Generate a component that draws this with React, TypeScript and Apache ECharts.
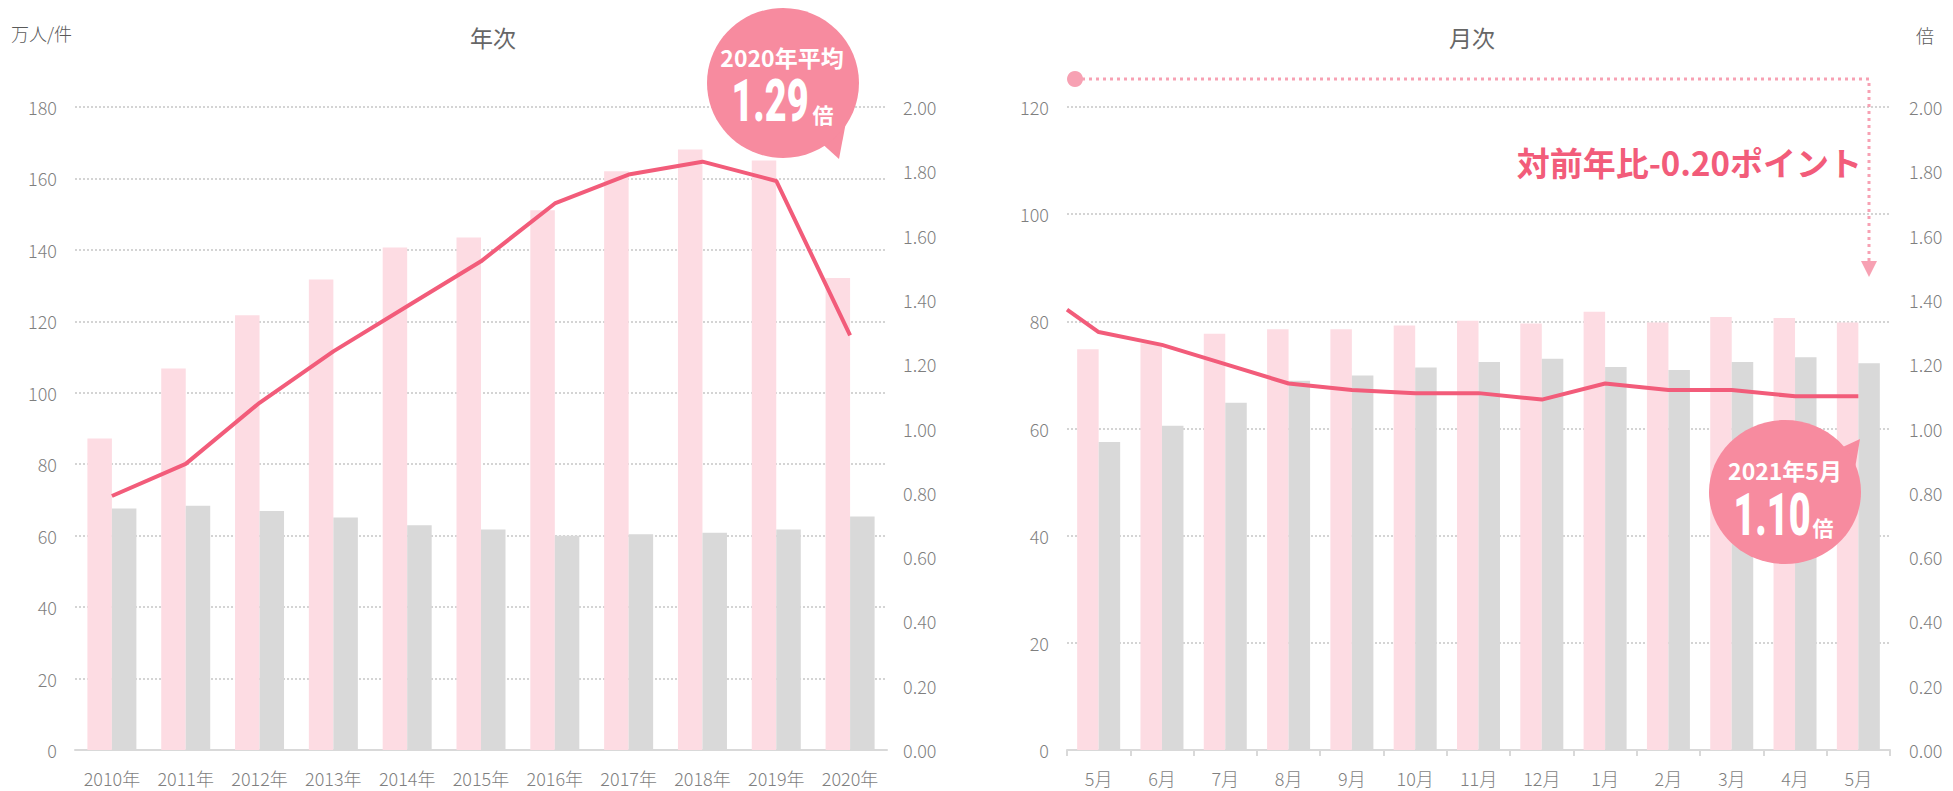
import React, { useEffect, useRef } from "react";
import * as echarts from "echarts";

// ---- data ----
const yearCategories = ["2010年", "2011年", "2012年", "2013年", "2014年", "2015年", "2016年", "2017年", "2018年", "2019年", "2020年"];
const yearOpenings = [87.2, 106.8, 121.7, 131.7, 140.7, 143.5, 151.1, 162.0, 168.1, 165.0, 132.1];
const yearSeekers = [67.6, 68.4, 66.9, 65.1, 62.9, 61.7, 60.0, 60.4, 60.8, 61.7, 65.4];
const yearRatio = [0.79, 0.89, 1.08, 1.24, 1.38, 1.52, 1.70, 1.79, 1.83, 1.77, 1.29];

const monthCategories = ["5月", "6月", "7月", "8月", "9月", "10月", "11月", "12月", "1月", "2月", "3月", "4月", "5月"];
const monthOpenings = [74.8, 75.9, 77.7, 78.5, 78.5, 79.2, 80.1, 79.6, 81.8, 79.8, 80.8, 80.6, 79.8];
const monthSeekers = [57.5, 60.5, 64.8, 68.9, 69.9, 71.4, 72.4, 73.0, 71.5, 70.9, 72.4, 73.3, 72.2];
const monthRatio = [1.30, 1.26, 1.20, 1.14, 1.12, 1.11, 1.11, 1.09, 1.14, 1.12, 1.12, 1.10, 1.10];
// value where the monthly ratio line enters at the left edge of the plot
const monthRatioEdge = 1.37;

const leftTicks = { max: 180, interval: 20 };
const monthLeftTicks = { max: 120, interval: 20 };
const ratioTicks = { max: 2, interval: 0.2 };

const PINK = "#fddce3";
const GRAY = "#d9d9d9";
const LINE = "#f25c7a";
const BUBBLE = "#f78b9f";
const ARROW = "#f7a1b3";
const LABEL = "#7f7f7f";
const FONT = "'Noto Sans CJK JP', 'Noto Sans', sans-serif";

export default function App() {
  const ref = useRef<HTMLDivElement>(null);

  useEffect(() => {
    if (!ref.current) return;
    const chart = echarts.init(ref.current, null, { renderer: "svg" });

    const axisLabel = { color: LABEL, fontSize: 18, fontFamily: FONT, fontWeight: 300 };
    const splitLine = { show: true, lineStyle: { color: "#c6c6c6", type: [2, 2], width: 1.5 } };

    const ratioLineData = [[-0.5, monthRatioEdge], ...monthRatio.map((v, i) => [i, v])];

    const bubbleText = (x: number, y: number, text: string, size: number, extra: any = {}) => ({
      type: "text",
      x,
      y,
      z: 101,
      ...extra,
      style: {
        text,
        fill: "#ffffff",
        font: `bold ${size}px ${FONT}`,
        align: "center",
        verticalAlign: "middle",
      },
    });

    const bigNumber = (x: number, y: number, text: string) => ({
      type: "text", x, y, scaleX: 0.64, z: 101,
      style: { text, fill: "#fff", font: `900 59px Roboto, ${FONT}`, align: "center", verticalAlign: "middle" },
    });

    const option: any = {
      animation: false,
      grid: [
        { left: 75, top: 107, width: 812, height: 643 },
        { left: 1067, top: 107, width: 823, height: 643 },
      ],
      xAxis: [
        {
          type: "category",
          gridIndex: 0,
          data: yearCategories,
          axisLine: { lineStyle: { color: GRAY, width: 2 } },
          axisTick: { show: false },
          axisLabel: { ...axisLabel, margin: 19 },
        },
        {
          type: "category",
          gridIndex: 1,
          data: monthCategories,
          axisLine: { lineStyle: { color: GRAY, width: 2 } },
          axisTick: { show: true, length: 6, lineStyle: { color: GRAY, width: 2 } },
          axisLabel: { ...axisLabel, margin: 19 },
        },
        { type: "value", gridIndex: 1, min: -0.5, max: 12.5, show: false },
      ],
      yAxis: [
        {
          type: "value",
          gridIndex: 0,
          min: 0,
          max: leftTicks.max,
          interval: leftTicks.interval,
          axisLine: { show: false },
          axisTick: { show: false },
          axisLabel: { ...axisLabel, margin: 18 },
          splitLine,
        },
        {
          type: "value",
          gridIndex: 0,
          position: "right",
          min: 0,
          max: ratioTicks.max,
          interval: ratioTicks.interval,
          axisLine: { show: false },
          axisTick: { show: false },
          splitLine: { show: false },
          axisLabel: { ...axisLabel, margin: 16, formatter: (v: number) => v.toFixed(2) },
        },
        {
          type: "value",
          gridIndex: 1,
          min: 0,
          max: monthLeftTicks.max,
          interval: monthLeftTicks.interval,
          axisLine: { show: false },
          axisTick: { show: false },
          axisLabel: { ...axisLabel, margin: 18 },
          splitLine,
        },
        {
          type: "value",
          gridIndex: 1,
          position: "right",
          min: 0,
          max: ratioTicks.max,
          interval: ratioTicks.interval,
          axisLine: { show: false },
          axisTick: { show: false },
          splitLine: { show: false },
          axisLabel: { ...axisLabel, margin: 19, formatter: (v: number) => v.toFixed(2) },
        },
      ],
      series: [
        { type: "bar", xAxisIndex: 0, yAxisIndex: 0, data: yearOpenings, barWidth: 24.5, barGap: "0%", itemStyle: { color: PINK } },
        { type: "bar", xAxisIndex: 0, yAxisIndex: 0, data: yearSeekers, barWidth: 24.5, barGap: "0%", itemStyle: { color: GRAY } },
        {
          type: "line", xAxisIndex: 0, yAxisIndex: 1, data: yearRatio, symbol: "none", z: 5,
          lineStyle: { color: LINE, width: 4 },
        },
        { type: "bar", xAxisIndex: 1, yAxisIndex: 2, data: monthOpenings, barWidth: 21.5, barGap: "0%", itemStyle: { color: PINK } },
        { type: "bar", xAxisIndex: 1, yAxisIndex: 2, data: monthSeekers, barWidth: 21.5, barGap: "0%", itemStyle: { color: GRAY } },
        {
          type: "line", xAxisIndex: 2, yAxisIndex: 3, data: ratioLineData, symbol: "none", z: 5,
          lineStyle: { color: LINE, width: 4 },
        },
      ],
      graphic: [
        { type: "text", left: 11, top: 24, style: { text: "万人/件", fill: "#595959", font: `300 18px ${FONT}` } },
        { type: "text", x: 493, y: 37, style: { text: "年次", fill: "#666666", font: `400 23px ${FONT}`, align: "center", verticalAlign: "middle" } },
        { type: "text", x: 1472, y: 37, style: { text: "月次", fill: "#666666", font: `400 23px ${FONT}`, align: "center", verticalAlign: "middle" } },
        { type: "text", x: 1925, y: 35, style: { text: "倍", fill: "#595959", font: `300 18px ${FONT}`, align: "center", verticalAlign: "middle" } },

        // left bubble
        { type: "polygon", z: 100, shape: { points: [[818, 140], [839, 159], [846, 122]] }, style: { fill: BUBBLE } },
        { type: "ellipse", z: 100, shape: { cx: 783, cy: 83, rx: 76, ry: 75 }, style: { fill: BUBBLE } },
        bubbleText(782, 57, "2020年平均", 23),
        bigNumber(770, 101, "1.29"),
        bubbleText(823, 114, "倍", 21),

        // right bubble
        { type: "polygon", z: 100, shape: { points: [[1832, 452], [1860, 439], [1854, 474]] }, style: { fill: BUBBLE } },
        { type: "ellipse", z: 100, shape: { cx: 1785, cy: 492, rx: 76, ry: 72 }, style: { fill: BUBBLE } },
        bubbleText(1785, 470, "2021年5月", 23),
        bigNumber(1772, 515, "1.10"),
        bubbleText(1823, 527, "倍", 21),

        // year-on-year arrow
        {
          type: "polyline", z: 90,
          shape: { points: [[1075, 79], [1869, 79], [1869, 262]] },
          style: { stroke: ARROW, lineWidth: 3, lineDash: [3, 4], fill: null },
        },
        { type: "circle", z: 91, shape: { cx: 1075, cy: 79, r: 8 }, style: { fill: ARROW } },
        { type: "polygon", z: 91, shape: { points: [[1861, 261], [1877, 261], [1869, 277]] }, style: { fill: ARROW } },
        {
          type: "text", x: 1862, y: 162, z: 92,
          style: { text: "対前年比-0.20ポイント", fill: LINE, font: `bold 33px ${FONT}`, align: "right", verticalAlign: "middle" },
        },
      ],
    };

    chart.setOption(option);
    return () => chart.dispose();
  }, []);

  return (
    <div
      ref={ref}
      style={{ position: "fixed", left: 0, top: 0, width: 1953, height: 791, background: "#fff" }}
    />
  );
}
